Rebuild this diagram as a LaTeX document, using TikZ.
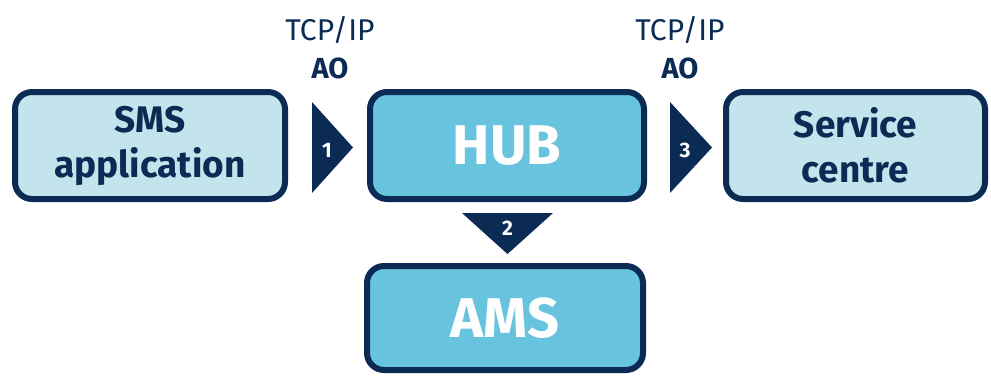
\documentclass[tikz,border=0pt]{standalone}
\usepackage{fontspec}
\setmainfont{Fira Sans}
\definecolor{navy}{RGB}{11,42,84}
\definecolor{lightblue}{RGB}{195,227,237}
\definecolor{midblue}{RGB}{104,195,222}
\begin{document}
\begin{tikzpicture}[x=1pt,y=-1pt,
  box/.style={draw=navy, line width=6pt, rounded corners=17pt, inner sep=0pt, align=center},
  lightbox/.style={box, fill=lightblue, text=navy, font=\fontsize{37}{45}\selectfont\bfseries},
  darkbox/.style={box, fill=midblue, text=white, font=\fontsize{56}{60}\selectfont\bfseries},
  tri/.style={fill=navy},
  num/.style={text=white, font=\fontsize{21}{22}\selectfont\bfseries, inner sep=0pt},
  proto/.style={text=navy, font=\fontsize{30}{32}\selectfont, inner sep=0pt},
  ao/.style={text=navy, font=\fontsize{29}{32}\selectfont\bfseries, inner sep=0pt}]
\useasboundingbox (0,0) rectangle (991,375);
\node[lightbox, minimum width=270pt, minimum height=107pt] (sms) at (150,145.5) {SMS\\application};
\node[darkbox, minimum width=274pt, minimum height=107pt] (hub) at (507,145.5) {HUB};
\node[lightbox, minimum width=259pt, minimum height=107pt] (sc) at (855.5,145.5) {Service\\centre};
\node[darkbox, minimum width=276pt, minimum height=104pt] (ams) at (505,318) {AMS};
% arrow 1
\fill[tri] (312,102) coordinate (a1t) -- (353,147.5) coordinate (a1p) -- (312,193) coordinate (a1b) -- cycle;
\node[num] (n1) at (327,150) {1};
% arrow 3
\fill[tri] (670,102) coordinate (a3t) -- (712,147.5) coordinate (a3p) -- (670,193) coordinate (a3b) -- cycle;
\node[num] (n3) at (685,150) {3};
% arrow 2
\fill[tri] (462,213) coordinate (a2l) -- (553,213) coordinate (a2r) -- (507.5,254) coordinate (a2p) -- cycle;
\node[num] (n2) at (507.5,228) {2};
% labels
\node[proto] (p1) at (330,30) {TCP/IP};
\node[ao] (ao1) at (330,68) {AO};
\node[proto] (p3) at (680,30) {TCP/IP};
\node[ao] (ao3) at (680,68) {AO};
\end{tikzpicture}
\end{document}
